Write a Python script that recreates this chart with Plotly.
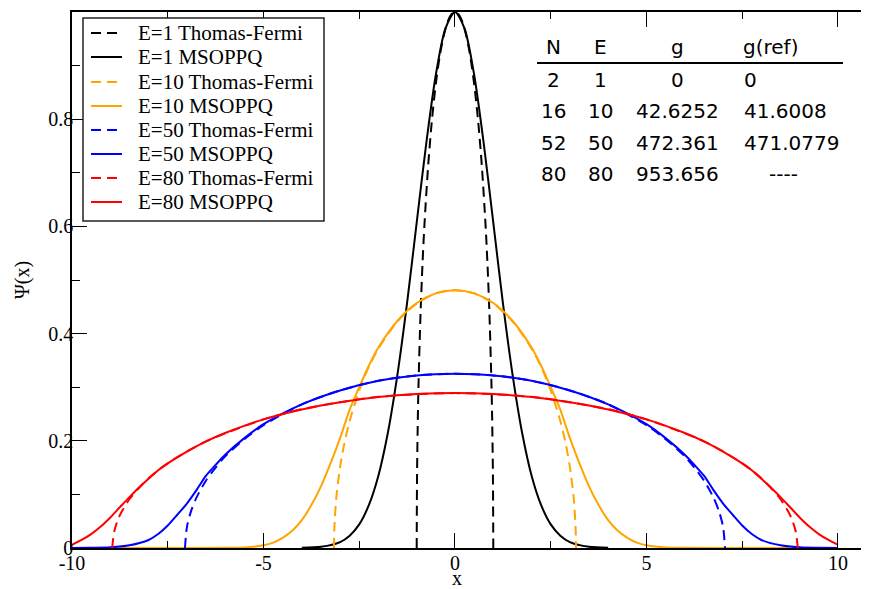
import plotly.graph_objects as go

# ---------------- data ----------------
# E=1
e1_tf_x = [-1.0, -0.99, -0.97, -0.95, -0.9, -0.85, -0.8, -0.7, -0.6, -0.5, -0.4, -0.3, -0.2, -0.1, 0.0,
           0.1, 0.2, 0.3, 0.4, 0.5, 0.6, 0.7, 0.8, 0.85, 0.9, 0.95, 0.97, 0.99, 1.0]
e1_tf_y = [0.0, 0.14, 0.243, 0.312, 0.436, 0.527, 0.6, 0.714, 0.8, 0.866, 0.917, 0.954, 0.98, 0.995, 1.0,
           0.995, 0.98, 0.954, 0.917, 0.866, 0.8, 0.714, 0.6, 0.527, 0.436, 0.312, 0.243, 0.14, 0.0]
e1_ms_x = [-4.0, -3.5, -3.0, -2.75, -2.5, -2.25, -2.0, -1.75, -1.5, -1.25, -1.0, -0.75, -0.5, -0.25, 0.0,
           0.25, 0.5, 0.75, 1.0, 1.25, 1.5, 1.75, 2.0, 2.25, 2.5, 2.75, 3.0, 3.5, 4.0]
e1_ms_y = [0.0003, 0.0022, 0.011, 0.023, 0.044, 0.080, 0.135, 0.216, 0.325, 0.458, 0.607, 0.755, 0.883, 0.969, 1.0,
           0.969, 0.883, 0.755, 0.607, 0.458, 0.325, 0.216, 0.135, 0.080, 0.044, 0.023, 0.011, 0.0022, 0.0003]

# E=10
e10_tf_x = [-3.16, -3.15, -3.1, -3.0, -2.9, -2.75, -2.5, -2.25, -2.0, -1.5, -1.0, -0.5, 0.0,
            0.5, 1.0, 1.5, 2.0, 2.25, 2.5, 2.75, 2.9, 3.0, 3.1, 3.15, 3.16]
e10_tf_y = [0.0, 0.036, 0.093, 0.151, 0.191, 0.237, 0.294, 0.338, 0.372, 0.423, 0.456, 0.475, 0.481,
            0.475, 0.456, 0.423, 0.372, 0.338, 0.294, 0.237, 0.191, 0.151, 0.093, 0.036, 0.0]
e10_ms_x = [-10.0, -7.0, -6.0, -5.5, -5.0, -4.75, -4.5, -4.25, -4.0, -3.75, -3.5, -3.25, -3.0, -2.75, -2.5,
            -2.25, -2.0, -1.5, -1.0, -0.5, 0.0, 0.5, 1.0, 1.5, 2.0, 2.25, 2.5, 2.75, 3.0, 3.25, 3.5,
            3.75, 4.0, 4.25, 4.5, 4.75, 5.0, 5.5, 6.0, 7.0, 10.0]
e10_ms_y = [0.0, 0.0, 0.0004, 0.001, 0.005, 0.010, 0.019, 0.032, 0.052, 0.080, 0.115, 0.158, 0.205, 0.258, 0.300,
            0.340, 0.374, 0.424, 0.457, 0.475, 0.481, 0.475, 0.457, 0.424, 0.374, 0.340, 0.300, 0.258, 0.205, 0.158, 0.115,
            0.080, 0.052, 0.032, 0.019, 0.010, 0.005, 0.001, 0.0004, 0.0, 0.0]

# E=50
e50_tf_x = [-7.05, -7.0, -6.9, -6.75, -6.5, -6.25, -6.0, -5.5, -5.0, -4.0, -3.0, -2.0, -1.0, 0.0,
            1.0, 2.0, 3.0, 4.0, 5.0, 5.5, 6.0, 6.25, 6.5, 6.75, 6.9, 7.0, 7.05]
e50_tf_y = [0.0, 0.039, 0.067, 0.094, 0.126, 0.150, 0.171, 0.203, 0.229, 0.268, 0.294, 0.312, 0.322, 0.325,
            0.322, 0.312, 0.294, 0.268, 0.229, 0.203, 0.171, 0.150, 0.126, 0.094, 0.067, 0.039, 0.0]
e50_ms_x = [-10.0, -9.5, -9.0, -8.5, -8.0, -7.75, -7.5, -7.25, -7.0, -6.75, -6.5, -6.25, -6.0, -5.5, -5.0,
            -4.0, -3.0, -2.0, -1.0, 0.0, 1.0, 2.0, 3.0, 4.0, 5.0, 5.5, 6.0, 6.25, 6.5, 6.75, 7.0,
            7.25, 7.5, 7.75, 8.0, 8.5, 9.0, 9.5, 10.0]
e50_ms_y = [0.0, 0.0003, 0.0012, 0.005, 0.015, 0.026, 0.042, 0.062, 0.083, 0.108, 0.135, 0.155, 0.174, 0.205, 0.231,
            0.268, 0.294, 0.312, 0.322, 0.325, 0.322, 0.312, 0.294, 0.268, 0.231, 0.205, 0.174, 0.155, 0.135, 0.108, 0.083,
            0.062, 0.042, 0.026, 0.015, 0.005, 0.0012, 0.0003, 0.0]

# E=80
e80_tf_x = [-8.95, -8.9, -8.8, -8.7, -8.5, -8.25, -8.0, -7.75, -7.5, -7.0, -6.5, -6.0, -5.0, -4.0, -3.0, -2.0, -1.0, 0.0,
            1.0, 2.0, 3.0, 4.0, 5.0, 6.0, 6.5, 7.0, 7.5, 7.75, 8.0, 8.25, 8.5, 8.7, 8.8, 8.9, 8.95]
e80_tf_y = [0.0, 0.030, 0.053, 0.068, 0.091, 0.112, 0.130, 0.145, 0.158, 0.180, 0.199, 0.214, 0.240, 0.259, 0.272, 0.282, 0.287, 0.289,
            0.287, 0.282, 0.272, 0.259, 0.240, 0.214, 0.199, 0.180, 0.158, 0.145, 0.130, 0.112, 0.091, 0.068, 0.053, 0.030, 0.0]
e80_ms_x = [-10.0, -9.75, -9.5, -9.25, -9.0, -8.75, -8.5, -8.25, -8.0, -7.75, -7.5, -7.0, -6.5, -6.0, -5.0, -4.0, -3.0, -2.0, -1.0, 0.0,
            1.0, 2.0, 3.0, 4.0, 5.0, 6.0, 6.5, 7.0, 7.5, 7.75, 8.0, 8.25, 8.5, 8.75, 9.0, 9.25, 9.5, 9.75, 10.0]
e80_ms_y = [0.006, 0.015, 0.026, 0.040, 0.057, 0.076, 0.095, 0.113, 0.129, 0.145, 0.158, 0.180, 0.199, 0.2145, 0.240, 0.2585, 0.272, 0.2817, 0.2872, 0.289,
            0.2872, 0.2817, 0.272, 0.2585, 0.240, 0.2145, 0.199, 0.180, 0.158, 0.145, 0.129, 0.113, 0.095, 0.076, 0.057, 0.040, 0.026, 0.015, 0.006]

series_names = ["E=1 Thomas-Fermi", "E=1 MSOPPQ", "E=10 Thomas-Fermi", "E=10 MSOPPQ",
                "E=50 Thomas-Fermi", "E=50 MSOPPQ", "E=80 Thomas-Fermi", "E=80 MSOPPQ"]

table_header = ["N", "E", "g", "g(ref)"]
table_N = ["2", "16", "52", "80"]
table_E = ["1", "10", "50", "80"]
table_g = ["0", "42.6252", "472.361", "953.656"]
table_gref = ["0", "41.6008", "471.0779", "----"]

x_ticks = [-10, -5, 0, 5, 10]
x_ticktext = ["-10", "-5", "0", "5", "10"]
x_minor = [-7.5, -2.5, 2.5, 7.5]
y_ticks = [0, 0.2, 0.4, 0.6, 0.8]
y_ticktext = ["0", "0.2", "0.4", "0.6", "0.8"]
y_minor = [0.1, 0.3, 0.5, 0.7, 0.9]

x_title = "x"
y_title = "Ψ(x)"

# ---------------- styling ----------------
# The page body has an 8px margin, so the figure is offset by 8px inside the window.
OFF = 8
W, H = 869 - OFF, 589 - OFF
L, R, T, B = 72 - OFF, 0, 12 - OFF, 41
PW, PH = W - L - R, H - T - B
SERIF = "Liberation Serif, Times New Roman, serif"
SANS = "DejaVu Sans, sans-serif"
DASH = "10px,6px"

def px(xp):  # window pixel -> paper fraction
    return (xp - OFF - L) / PW

def py(yp):
    return (H - B - (yp - OFF)) / PH

colors = ["black", "black", "#FFA500", "#FFA500", "#0000FF", "#0000FF", "#FF0000", "#FF0000"]
dashes = [DASH, "solid"] * 4
data = [(e1_tf_x, e1_tf_y), (e1_ms_x, e1_ms_y), (e10_tf_x, e10_tf_y), (e10_ms_x, e10_ms_y),
        (e50_tf_x, e50_tf_y), (e50_ms_x, e50_ms_y), (e80_tf_x, e80_tf_y), (e80_ms_x, e80_ms_y)]

fig = go.Figure()
for (xs, ys), name, c, d in zip(data, series_names, colors, dashes):
    fig.add_trace(go.Scatter(x=xs, y=ys, mode="lines", name=name, showlegend=False,
                             line=dict(color=c, width=2, dash=d, shape="spline", smoothing=0.8)))

shapes = []
annotations = []

# legend box (drawn manually)
shapes.append(dict(type="rect", xref="paper", yref="paper", x0=px(83), x1=px(324), y0=py(221), y1=py(18),
                   line=dict(color="#222", width=1.5), fillcolor="white", layer="above"))
leg_y = [33, 57, 82, 106, 130, 154, 178, 202]
for name, c, d, yy in zip(series_names, colors, dashes, leg_y):
    shapes.append(dict(type="line", xref="paper", yref="paper", x0=px(91), x1=px(122), y0=py(yy), y1=py(yy),
                       line=dict(color=c, width=2, dash=d), layer="above"))
    annotations.append(dict(xref="paper", yref="paper", x=px(136), y=py(yy), text=name, showarrow=False,
                            xanchor="left", yanchor="middle", font=dict(family=SERIF, size=21, color="black")))

# table
col_x = [553, 600, 677, 770]
for t, cx in zip(table_header, col_x):
    annotations.append(dict(xref="paper", yref="paper", x=px(cx), y=py(47), text=t, showarrow=False,
                            xanchor="center", yanchor="middle", font=dict(family=SANS, size=20, color="black")))
shapes.append(dict(type="line", xref="paper", yref="paper", x0=px(537), x1=px(843), y0=py(63), y1=py(63),
                   line=dict(color="black", width=2)))
row_y = [80, 111, 143, 174]
for i, ry in enumerate(row_y):
    for t, cx in zip([table_N[i], table_E[i], table_g[i]], col_x[:3]):
        annotations.append(dict(xref="paper", yref="paper", x=px(cx), y=py(ry), text=t, showarrow=False,
                                xanchor="center", yanchor="middle", font=dict(family=SANS, size=20, color="black")))
    gr = table_gref[i]
    annotations.append(dict(xref="paper", yref="paper", x=px(742 if gr != "----" else 767), y=py(ry), text=gr,
                            showarrow=False, xanchor="left", yanchor="middle",
                            font=dict(family=SANS, size=20, color="black")))

# axis titles as annotations (exact placement)
annotations.append(dict(xref="paper", yref="paper", x=px(457), y=py(578), text=x_title, showarrow=False,
                        xanchor="center", yanchor="middle", borderpad=0,
                        font=dict(family=SERIF, size=20, color="black")))
annotations.append(dict(xref="paper", yref="paper", x=px(22), y=py(280), text=y_title, showarrow=False,
                        textangle=-90, xanchor="center", yanchor="middle",
                        font=dict(family=SERIF, size=20, color="black")))

fig.update_layout(
    width=W, height=H, margin=dict(l=L, r=R, t=T, b=B, autoexpand=False),
    paper_bgcolor="white", plot_bgcolor="white",
    showlegend=False, shapes=shapes, annotations=annotations,
    xaxis=dict(range=[-10, 10.81], tickmode="array", tickvals=x_ticks, ticktext=x_ticktext,
               ticks="inside", ticklen=15, tickwidth=1, tickcolor="black",
               minor=dict(tickmode="array", tickvals=x_minor, ticks="inside", ticklen=7, tickcolor="black", tickwidth=1),
               showline=True, linecolor="black", linewidth=1.5, mirror="ticks",
               showgrid=False, zeroline=False, automargin=False, ticklabelstandoff=-4,
               tickfont=dict(family=SERIF, size=20, color="black")),
    yaxis=dict(range=[0, 1.0], tickmode="array", tickvals=y_ticks, ticktext=y_ticktext,
               ticks="inside", ticklen=15, tickwidth=1, tickcolor="black",
               minor=dict(tickmode="array", tickvals=y_minor, ticks="inside", ticklen=8, tickcolor="black", tickwidth=1),
               showline=True, linecolor="black", linewidth=1.5, mirror=False,
               showgrid=False, zeroline=False, automargin=False, ticklabelstandoff=-7,
               tickfont=dict(family=SERIF, size=20, color="black")),
)

fig.write_html("out.html")
